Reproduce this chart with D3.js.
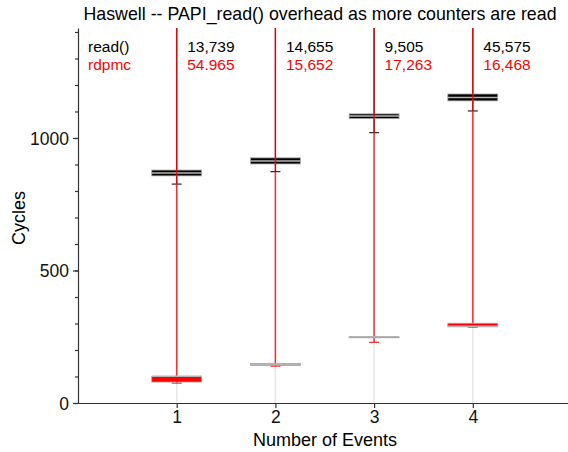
<!DOCTYPE html>
<html>
<head>
<meta charset="utf-8">
<script src="https://cdn.jsdelivr.net/npm/d3@7"></script>
<style>
  body { margin: 0; background: #fff; }
  svg text { font-family: "Liberation Sans", Arial, Helvetica, sans-serif; }
</style>
</head>
<body>
<svg id="chart" width="568" height="452"></svg>
<script>
// number of events on the x axis
const events = [1, 2, 3, 4];

// PAPI_read() box stats (cycles)
const readQ1 = [857, 902, 1073, 1140];
const readMed = [868, 913, 1083, 1153];
const readQ3 = [879, 925, 1091, 1166];
const readLow = [826, 873, 1020, 1102];
const readMax = [13739, 14655, 9505, 45575];
const readMaxLabels = ["13,739", "14,655", "9,505", "45,575"];

// rdpmc box stats (cycles)
const rdpmcQ1 = [79, 142, 246, 288];
const rdpmcMed = [101, 146, 250, 289];
const rdpmcQ3 = [100, 149, 250, 301];
const rdpmcLow = [75, 139, 229, 286];
const rdpmcMax = [54965, 15652, 17263, 16468];
const rdpmcMaxLabels = ["54.965", "15,652", "17,263", "16,468"];

const yMajor = [0, 500, 1000];
const yMinor = d3.range(0, 1401, 100);

const svg = d3.select("#chart");
const mLeft = 78, mRight = 571.5, mTop = 28, mBottom = 403;

const x = d3.scaleLinear().domain([0, 5]).range([mLeft, mRight]);
const y = d3.scaleLinear().domain([0, 1415]).range([mBottom, mTop]);
const halfW = 0.253;

const clamp = v => Math.min(v, y.domain()[1]);

function buildSeries(q1, med, q3, low, max) {
    return events.map((e, i) => ({ e, q1: q1[i], med: med[i], q3: q3[i], low: low[i], max: max[i] }));
}
const readData = buildSeries(readQ1, readMed, readQ3, readLow, readMax);
const rdpmcData = buildSeries(rdpmcQ1, rdpmcMed, rdpmcQ3, rdpmcLow, rdpmcMax);

// grid lines
svg.append("g").selectAll("line")
    .data(events)
    .enter().append("line")
    .attr("x1", d => x(d)).attr("x2", d => x(d))
    .attr("y1", y(y.domain()[1])).attr("y2", mBottom)
    .style("stroke", "#e6e6e6")
    .style("stroke-width", 1.5);

function drawBoxes(data, color, whiskColor, whiskWidth, whiskOpacity) {
    const g = svg.append("g");
    // whisker line
    g.selectAll(".whisk")
        .data(data)
        .enter().append("line")
        .attr("x1", d => x(d.e)).attr("x2", d => x(d.e))
        .attr("y1", d => y(d.low)).attr("y2", d => y(clamp(d.max)))
        .style("stroke", whiskColor)
        .style("stroke-width", whiskWidth)
        .style("stroke-opacity", whiskOpacity);
    // low whisker tick
    g.selectAll(".tick")
        .data(data)
        .enter().append("line")
        .attr("x1", d => x(d.e) - 5).attr("x2", d => x(d.e) + 5)
        .attr("y1", d => y(d.low)).attr("y2", d => y(d.low))
        .style("stroke", whiskColor)
        .style("stroke-width", 1.2)
        .style("stroke-opacity", 0.85);
    // box
    g.selectAll(".box")
        .data(data)
        .enter().append("rect")
        .attr("x", d => x(d.e - halfW))
        .attr("width", d => x(d.e + halfW) - x(d.e - halfW))
        .attr("y", d => y(d.q3))
        .attr("height", d => y(d.q1) - y(d.q3))
        .style("fill", color)
        .style("stroke", "#aaa")
        .style("stroke-width", 0.8);
    // median
    g.selectAll(".med")
        .data(data)
        .enter().append("line")
        .attr("x1", d => x(d.e - halfW)).attr("x2", d => x(d.e + halfW))
        .attr("y1", d => y(d.med)).attr("y2", d => y(d.med))
        .style("stroke", "#b4b4b4")
        .style("stroke-width", 1.6);
}

drawBoxes(readData, "#000", "#000", 1, 1);
drawBoxes(rdpmcData, "#ff0000", "#ff0000", 1.5, 0.8);

// axes
const yAxis = svg.append("g")
    .attr("transform", `translate(${mLeft},0)`)
    .call(d3.axisLeft(y).tickValues(yMajor).tickSize(5).tickSizeOuter(0).tickFormat(d3.format("d")));
svg.append("g")
    .attr("transform", `translate(${mLeft},0)`)
    .call(d3.axisLeft(y).tickValues(yMinor).tickSize(3).tickFormat("").tickSizeOuter(0))
    .select(".domain").remove();
yAxis.selectAll("text").style("font-size", "17.5px").attr("x", -9).attr("dy", "0.35em").style("fill", "#111");

const xAxis = svg.append("g")
    .attr("transform", `translate(0,${mBottom})`)
    .call(d3.axisBottom(x).tickValues(events).tickSize(5).tickSizeOuter(0).tickFormat(d3.format("d")));
xAxis.selectAll("text").style("font-size", "17.5px").attr("y", 8).style("fill", "#111");
xAxis.select(".domain").attr("d", `M${mLeft},0.5H568`);

svg.selectAll(".domain, .tick line").style("stroke", "#333").style("stroke-width", 1.2);

// labels
svg.append("text")
    .attr("x", 320).attr("y", 20)
    .attr("text-anchor", "middle")
    .style("font-size", "17.8px")
    .text("Haswell -- PAPI_read() overhead as more counters are read");

svg.append("text")
    .attr("x", 325).attr("y", 446)
    .attr("text-anchor", "middle")
    .style("font-size", "18px")
    .text("Number of Events");

svg.append("text")
    .attr("transform", "translate(25,218) rotate(-90)")
    .attr("text-anchor", "middle")
    .style("font-size", "18px")
    .text("Cycles");

// max annotations
svg.append("text").attr("x", 88).attr("y", 52).style("font-size", "15.5px").text("read()");
svg.append("text").attr("x", 88).attr("y", 70).style("font-size", "15.5px").style("fill", "#ff0000").text("rdpmc");

svg.append("g").selectAll("text")
    .data(events)
    .enter().append("text")
    .attr("x", d => x(d) + 10.5).attr("y", 52)
    .style("font-size", "15.5px")
    .text((d, i) => readMaxLabels[i]);
svg.append("g").selectAll("text")
    .data(events)
    .enter().append("text")
    .attr("x", d => x(d) + 10.5).attr("y", 70)
    .style("font-size", "15.5px")
    .style("fill", "#ff0000")
    .text((d, i) => rdpmcMaxLabels[i]);
</script>
</body>
</html>
